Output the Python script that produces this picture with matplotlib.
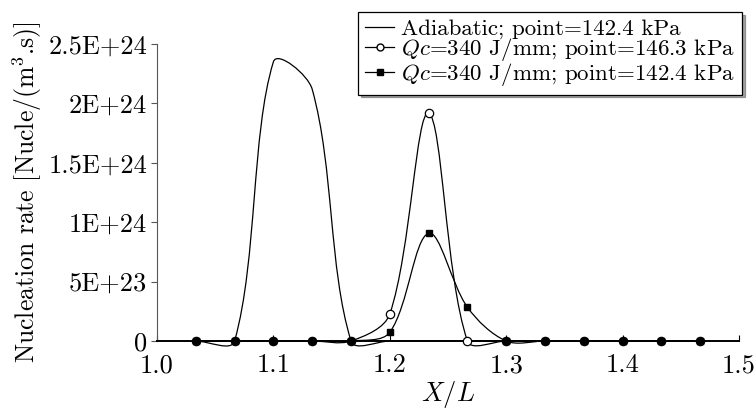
import numpy as np
import matplotlib
matplotlib.use("Agg")
import matplotlib.pyplot as plt
from matplotlib.path import Path
from matplotlib.patches import PathPatch
from matplotlib.lines import Line2D

plt.rcParams['font.family'] = 'serif'
plt.rcParams['font.serif'] = ['cmr10']
plt.rcParams['mathtext.fontset'] = 'cm'
plt.rcParams['axes.unicode_minus'] = False

# X/L stations (every 1/30)
x_pos = [1.0333, 1.0667, 1.1, 1.1333, 1.1667, 1.2, 1.2333, 1.2667,
         1.3, 1.3333, 1.3667, 1.4, 1.4333, 1.4667]

# nucleation rate, Nucle/(m^3.s)
adiabatic = [0, 0, 2.35e24, 2.12e24, 0, 0, 0, 0, 0, 0, 0, 0, 0, 0]
qc_146 = [0, 0, 0, 0, 0, 2.27e23, 1.917e24, 0, 0, 0, 0, 0, 0, 0]
qc_142 = [0, 0, 0, 0, 0, 7.3e22, 9.07e23, 2.84e23, 0, 0, 0, 0, 0, 0]

labels = ['Adiabatic; point=142.4 kPa',
          '$Qc$=340 J/mm; point=146.3 kPa',
          '$Qc$=340 J/mm; point=142.4 kPa']

y_ticks = [0, 5e23, 1e24, 1.5e24, 2e24, 2.5e24]
y_ticklabels = ['0', '5E+23', '1E+24', '1.5E+24', '2E+24', '2.5E+24']
x_ticks = [1.0, 1.1, 1.2, 1.3, 1.4, 1.5]

W, H = 755, 412


def smooth_line(ax, xs, ys, **kw):
    # bezier through the points, handles scaled by neighbouring chord lengths
    P = np.column_stack([xs, ys]).astype(float)
    D = ax.transData.transform(P)
    n = len(P)

    def handles(k):
        if k == 0:
            t = P[1] - P[0]
            return P[0] - t / 3, P[0] + t / 3
        if k == n - 1:
            t = P[-1] - P[-2]
            return P[-1] - t / 3, P[-1] + t / 3
        lp = np.hypot(*(D[k] - D[k - 1]))
        ln = np.hypot(*(D[k + 1] - D[k]))
        t = P[k + 1] - P[k - 1]
        s = lp + ln
        return P[k] - t * lp / s / 3, P[k] + t * ln / s / 3

    verts = [P[0]]
    codes = [Path.MOVETO]
    for i in range(n - 1):
        verts += [handles(i)[1], handles(i + 1)[0], P[i + 1]]
        codes += [Path.CURVE4] * 3
    patch = PathPatch(Path(verts, codes), facecolor='none', clip_on=False, **kw)
    ax.add_patch(patch)
    return patch


fig = plt.figure(figsize=(W / 100, H / 100), dpi=100)
ax = fig.add_axes([157 / W, 71 / H, 582 / W, 297 / H])
ax.set_xlim(1.0, 1.5)
ax.set_ylim(0, 2.5e24)

lw = 0.9
smooth_line(ax, x_pos, adiabatic, edgecolor='black', lw=lw, zorder=2)
smooth_line(ax, x_pos, qc_146, edgecolor='black', lw=lw, zorder=2)
smooth_line(ax, x_pos, qc_142, edgecolor='black', lw=lw, zorder=2)

ax.plot(x_pos, qc_146, ls='none', marker='o', ms=6, mfc='white', mec='black',
        mew=0.9, clip_on=False, zorder=3)
ax.plot(x_pos, qc_142, ls='none', marker='s', ms=5, mfc='black', mec='black',
        clip_on=False, zorder=4)

ax.spines['top'].set_visible(False)
ax.spines['right'].set_visible(False)
ax.spines['left'].set_color('#555555')
ax.spines['left'].set_linewidth(0.8)
ax.spines['bottom'].set_linewidth(1.4)

ax.set_yticks(y_ticks)
ax.set_yticklabels(y_ticklabels)
ax.set_xticks(x_ticks)
ax.set_xticklabels(['%.1f' % v for v in x_ticks])
ax.tick_params(labelsize=19, width=0.8)
ax.tick_params(axis='y', direction='out', length=4, pad=3, color='#555555')
ax.tick_params(axis='x', direction='in', length=4, pad=9)

ax.set_xlabel('$X/L$', fontsize=19, labelpad=1)
ax.set_ylabel('Nucleation rate [Nucle/(m$^3$.s)]', fontsize=18.5, labelpad=3)

handles = [
    Line2D([], [], color='black', lw=lw),
    Line2D([], [], color='black', lw=lw, marker='o', ms=5, mfc='white', mec='black'),
    Line2D([], [], color='black', lw=lw, marker='s', ms=4.5, mfc='black'),
]
leg = fig.legend(handles, labels, loc='upper right', bbox_to_anchor=(1, 1),
                 fontsize=16.5, frameon=True, fancybox=False, shadow=True,
                 handlelength=1.3, handletextpad=0.3, labelspacing=-0.12,
                 borderpad=0.3, borderaxespad=0)
leg.get_frame().set_edgecolor('black')
leg.get_frame().set_linewidth(0.9)

# pin the legend frame's top-right corner at (742, 12) px
fig.canvas.draw()
bb = leg.get_frame().get_window_extent()
dx = 742 - bb.x1
dy = (H - 12) - bb.y1
leg.set_bbox_to_anchor((1 + dx / W, 1 + dy / H), transform=fig.transFigure)

fig.savefig('out.png', dpi=100)
